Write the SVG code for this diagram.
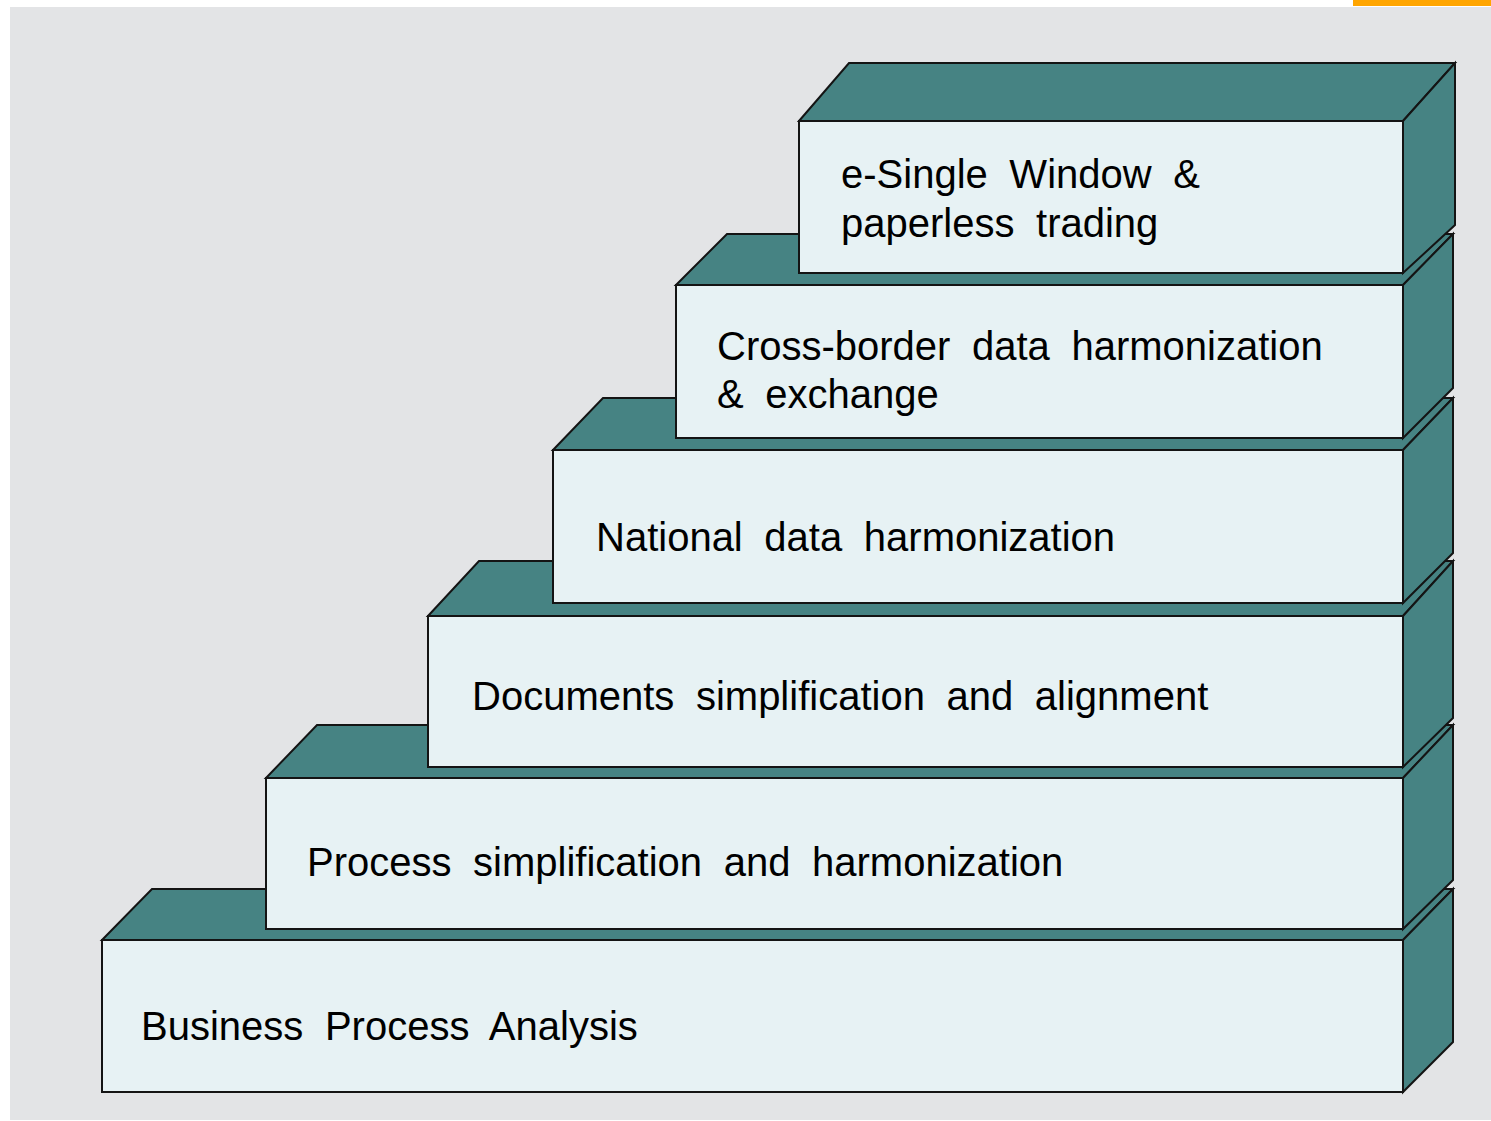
<svg xmlns="http://www.w3.org/2000/svg" width="1491" height="1121" viewBox="0 0 1491 1121">
<style>
.face{fill:#468383;stroke:#141414;stroke-width:2;stroke-linejoin:miter}
.front{fill:#E7F2F4;stroke:#141414;stroke-width:2}
.lbl{font-family:"Liberation Sans",Arial,sans-serif;font-size:40px;fill:#000;word-spacing:10.5px}
</style>
<rect x="0" y="0" width="1491" height="1121" fill="#ffffff"/>
<rect x="10" y="7" width="1481" height="1113" fill="#E3E4E6"/>
<rect x="1353" y="0" width="138" height="6" fill="#FFA500"/>

<g id="step1">
<polygon class="face" points="102,940 152,889 1453,889 1403,940"/>
<polygon class="face" points="1403,940 1453,889 1453,1042 1403,1092"/>
<rect class="front" x="102" y="940" width="1301" height="152"/>
<text class="lbl" x="141" y="1040">Business Process Analysis</text>
</g>

<g id="step2">
<polygon class="face" points="266,778 317,725 1453,725 1403,778"/>
<polygon class="face" points="1403,778 1453,725 1453,880 1403,929"/>
<rect class="front" x="266" y="778" width="1137" height="151"/>
<text class="lbl" x="307" y="876">Process simplification and harmonization</text>
</g>

<g id="step3">
<polygon class="face" points="428,616 479,561 1453,561 1403,616"/>
<polygon class="face" points="1403,616 1453,561 1453,718 1403,767"/>
<rect class="front" x="428" y="616" width="975" height="151"/>
<text class="lbl" x="472" y="710">Documents simplification and alignment</text>
</g>

<g id="step4">
<polygon class="face" points="553,450 603,398 1453,398 1403,450"/>
<polygon class="face" points="1403,450 1453,398 1453,553 1403,603"/>
<rect class="front" x="553" y="450" width="850" height="153"/>
<text class="lbl" x="596" y="551">National data harmonization</text>
</g>

<g id="step5">
<polygon class="face" points="676,285 727,234 1453,234 1403,285"/>
<polygon class="face" points="1403,285 1453,234 1453,388 1403,438"/>
<rect class="front" x="676" y="285" width="727" height="153"/>
<text class="lbl" x="717" y="360">Cross-border data harmonization</text>
<text class="lbl" x="717" y="408">&amp; exchange</text>
</g>

<g id="step6">
<polygon class="face" points="799,121 849,63 1455,63 1403,121"/>
<polygon class="face" points="1403,121 1455,63 1455,225 1403,273"/>
<rect class="front" x="799" y="121" width="604" height="152"/>
<text class="lbl" x="841" y="188">e-Single Window &amp;</text>
<text class="lbl" x="841" y="237">paperless trading</text>
</g>
</svg>
